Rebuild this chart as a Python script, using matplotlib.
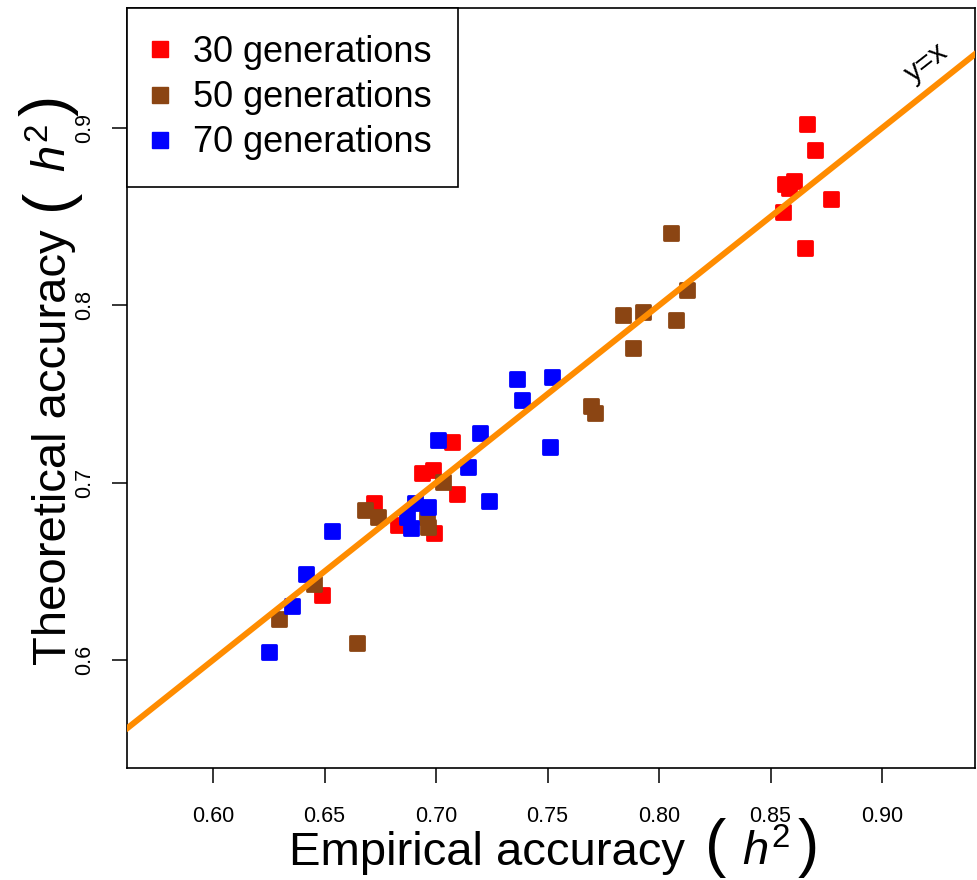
import numpy as np
import matplotlib
matplotlib.use('Agg')
import matplotlib.pyplot as plt
from matplotlib.markers import MarkerStyle
from matplotlib.lines import Line2D

plt.rcParams.update({'font.family': 'Liberation Sans',
                     'mathtext.fontset': 'custom',
                     'mathtext.rm': 'Liberation Sans',
                     'mathtext.it': 'Liberation Sans:italic'})

# empirical (x) vs theoretical (y) accuracy
emp_30 = [0.8664, 0.8700, 0.8565, 0.8604, 0.8584, 0.8772, 0.8557, 0.8655,
          0.7073, 0.6936, 0.6988, 0.7096, 0.6720, 0.6831, 0.6992, 0.6490]
theo_30 = [0.9023, 0.8877, 0.8686, 0.8703, 0.8664, 0.8598, 0.8529, 0.8326,
           0.7228, 0.7057, 0.7069, 0.6936, 0.6884, 0.6761, 0.6715, 0.6365]
emp_50 = [0.8052, 0.8124, 0.7840, 0.7927, 0.8075, 0.7885, 0.7695, 0.7713,
          0.7033, 0.6682, 0.6741, 0.6958, 0.6964, 0.6453, 0.6296, 0.6644]
theo_50 = [0.8410, 0.8087, 0.7946, 0.7964, 0.7918, 0.7758, 0.7433, 0.7395,
           0.7006, 0.6846, 0.6808, 0.6809, 0.6750, 0.6429, 0.6230, 0.6094]
emp_70 = [0.7362, 0.7522, 0.7387, 0.7197, 0.7008, 0.7145, 0.7511, 0.7238,
          0.6535, 0.6416, 0.6353, 0.6252, 0.6906, 0.6966, 0.6869, 0.6887]
theo_70 = [0.7583, 0.7598, 0.7466, 0.7282, 0.7241, 0.7090, 0.7200, 0.6899,
           0.6729, 0.6483, 0.6306, 0.6047, 0.6884, 0.6861, 0.6805, 0.6743]

labels = ['30 generations', '50 generations', '70 generations']
colors = ['#ff0000', '#8b4513', '#0000ff']

W, H = 977, 880
fig = plt.figure(figsize=(W/100, H/100), dpi=100)
ax = fig.add_axes([127/W, 112/H, 848/W, 760/H])

xlim = (0.5614, 0.9417)
ax.plot(xlim, xlim, color='#ff8c00', lw=4.3, zorder=3)

mk = MarkerStyle('s', joinstyle='round')
for xs, ys, c in zip([emp_30, emp_50, emp_70], [theo_30, theo_50, theo_70], colors):
    ax.plot(xs, ys, ls='none', marker=mk, ms=10.5, mfc=c, mec=c, mew=2, zorder=2)

ax.set_xlim(*xlim)
ax.set_ylim(0.5391, 0.9677)
ax.set_xticks([0.60, 0.65, 0.70, 0.75, 0.80, 0.85, 0.90])
ax.set_xticklabels(['0.60', '0.65', '0.70', '0.75', '0.80', '0.85', '0.90'])
ax.set_yticks([0.6, 0.7, 0.8, 0.9])
ax.set_yticklabels(['0.6', '0.7', '0.8', '0.9'], rotation=90, va='center')
ax.tick_params(axis='x', length=11, width=1.1, labelsize=15.5, pad=16)
ax.tick_params(axis='y', length=11, width=1.1, labelsize=15.5, pad=12)
for s in ax.spines.values():
    s.set_linewidth(1.2)

ax.text(0.92, 0.937, 'y=x', fontsize=21, rotation=38, ha='center', va='center')

handles = [Line2D([], [], ls='none', marker='s', ms=12, mfc=c, mec=c) for c in colors]
leg = ax.legend(handles, labels, loc='upper left', bbox_to_anchor=(0, 1), borderaxespad=0,
                fontsize=26, frameon=True, fancybox=False, framealpha=1, edgecolor='black',
                borderpad=0.75, handlelength=0.35, handletextpad=0.72, labelspacing=0.28)
leg.get_frame().set_linewidth(1.2)


# axis labels with big parentheses around h^2, pieces laid out one after another
def place_label(parts, center, base, vertical):
    r = fig.canvas.get_renderer()
    texts, sizes = [], []
    for s, fs, gap in parts:
        t = fig.text(0, 0, s, fontsize=fs, rotation=90 if vertical else 0,
                     rotation_mode='anchor', ha='left', va='baseline')
        bb = t.get_window_extent(r)
        texts.append(t)
        sizes.append(bb.height if vertical else bb.width)
    total = sum(sizes) + sum(p[2] for p in parts)
    pos = center - total / 2
    for t, size, p in zip(texts, sizes, parts):
        pos += p[2]
        if vertical:
            t.set_position((base / W, pos / H))
        else:
            t.set_position((pos / W, base / H))
        pos += size


def label_parts(word):
    return [(word, 34, 0), ('(', 46, 20), (r'$h^{2}$', 34, 16), (')', 46, 8)]


place_label(label_parts('Empirical accuracy'), 554, 15, False)
place_label(label_parts('Theoretical accuracy'), H - 380, 66, True)

plt.savefig('out.png', dpi=100, facecolor='white')
